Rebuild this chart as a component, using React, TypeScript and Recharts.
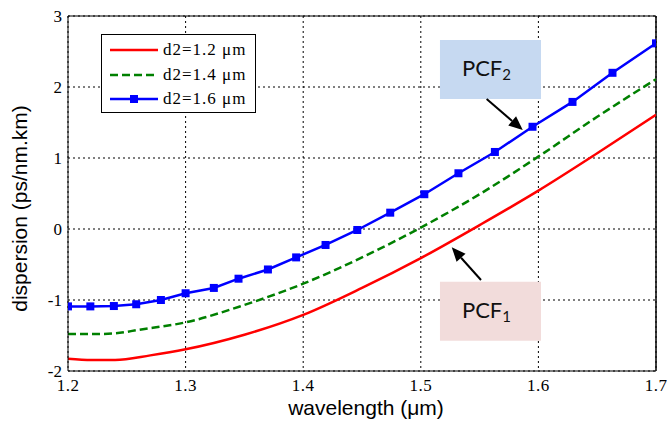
import React from 'react';
import {
  LineChart,
  Line,
  XAxis,
  YAxis,
  CartesianGrid,
  ReferenceLine,
  ReferenceArea,
  Legend,
} from 'recharts';

// ---- data ----
const xTicks = [1.2, 1.3, 1.4, 1.5, 1.6, 1.7];
const yTicks = [-2, -1, 0, 1, 2, 3];

const seriesNames = ['d2=1.2 \u03bcm', 'd2=1.4 \u03bcm', 'd2=1.6 \u03bcm'];
const seriesColors = ['#ff0000', '#008000', '#0000ff'];
const xAxisTitle = 'wavelength (\u03bcm)';
const yAxisTitle = 'dispersion (ps/nm.km)';

const redX = [1.2, 1.22, 1.24, 1.27, 1.3, 1.35, 1.4, 1.45, 1.5, 1.55, 1.6, 1.65, 1.7];
const redY = [-1.826, -1.845, -1.845, -1.78, -1.695, -1.49, -1.21, -0.83, -0.41, 0.055, 0.54, 1.066, 1.61];

const greenX = [1.2, 1.22, 1.24, 1.26, 1.3, 1.35, 1.4, 1.45, 1.5, 1.55, 1.6, 1.65, 1.7];
const greenY = [-1.48, -1.48, -1.47, -1.42, -1.315, -1.07, -0.77, -0.4, 0.02, 0.49, 1.02, 1.58, 2.11];

const blueX = [1.2, 1.219, 1.239, 1.258, 1.279, 1.3, 1.324, 1.345, 1.37, 1.394, 1.419, 1.446, 1.474, 1.503, 1.532, 1.563, 1.595, 1.629, 1.663, 1.7];
const blueY = [-1.09, -1.09, -1.085, -1.06, -1.0, -0.905, -0.83, -0.7, -0.57, -0.4, -0.225, -0.014, 0.23, 0.49, 0.785, 1.085, 1.44, 1.79, 2.2, 2.615];

// annotation boxes (data coords) and arrows
const pcf2Box = { x1: 1.5163, x2: 1.6022, y1: 1.831, y2: 2.662 };
const pcf1Box = { x1: 1.5163, x2: 1.6022, y1: -1.573, y2: -0.742 };
const pcf2Arrow = [{ x: 1.556, y: 1.831 }, { x: 1.5867, y: 1.394 }];
const pcf1Arrow = [{ x: 1.5512, y: -0.718 }, { x: 1.5263, y: -0.258 }];

const toPts = (xs: number[], ys: number[]) => xs.map((x, i) => ({ x, y: ys[i] }));
const redData = toPts(redX, redY);
const greenData = toPts(greenX, greenY);
const blueData = toPts(blueX, blueY);

const serif = "'Liberation Serif', 'Times New Roman', serif";
const sans = "'Liberation Sans', Arial, sans-serif";

const arrowShape = (p: any) => {
  const { x1, y1, x2, y2 } = p;
  const dx = x2 - x1;
  const dy = y2 - y1;
  const len = Math.hypot(dx, dy) || 1;
  const ux = dx / len;
  const uy = dy / len;
  const hl = 14;
  const hw = 6;
  const bx = x2 - ux * hl;
  const by = y2 - uy * hl;
  const pts = `${x2},${y2} ${bx - uy * hw},${by + ux * hw} ${bx + uy * hw},${by - ux * hw}`;
  return (
    <g>
      <line x1={x1} y1={y1} x2={bx} y2={by} stroke="#000" strokeWidth={2} />
      <polygon points={pts} fill="#000" />
    </g>
  );
};

const pcfLabel = (sub: string) => (props: any) => {
  const vb = props.viewBox || {};
  const cx = vb.x + vb.width / 2 - 4;
  const cy = vb.y + vb.height / 2 + 7;
  return (
    <text x={cx} y={cy} textAnchor="middle" style={{ fontFamily: "Lato, 'Open Sans', sans-serif" }} fontSize={22} fill="#111">
      PCF
      <tspan fontSize={15} dy={4}>{sub}</tspan>
    </text>
  );
};

const XTick = (p: any) => (
  <text
    x={p.x}
    y={p.y + 20}
    textAnchor="middle"
    style={{ fontFamily: serif, letterSpacing: '0.5px' }}
    fontSize={17}
    fill="#000"
  >
    {Number(p.payload.value).toFixed(1)}
  </text>
);

const YTick = (p: any) => (
  <text
    x={p.x - 6}
    y={p.y + 6}
    textAnchor="end"
    style={{ fontFamily: serif }}
    fontSize={17}
    fill="#000"
  >
    {String(p.payload.value)}
  </text>
);

const renderXLabel = (props: any) => {
  const vb = props.viewBox || {};
  return (
    <text x={vb.x + vb.width / 2 + 4} y={vb.y + 44} textAnchor="middle" style={{ fontFamily: sans }} fontSize={21} fill="#000">
      {xAxisTitle}
    </text>
  );
};

const renderYLabel = (props: any) => {
  const vb = props.viewBox || {};
  const x = vb.x + 27;
  const y = vb.y + vb.height / 2 + 15;
  return (
    <text x={x} y={y} transform={`rotate(-90, ${x}, ${y})`} textAnchor="middle" style={{ fontFamily: sans }} fontSize={21} fill="#000">
      {yAxisTitle}
    </text>
  );
};

const renderLegend = () => (
  <div
    style={{
      width: 155,
      height: 79,
      boxSizing: 'border-box',
      border: '1px solid #000',
      background: '#fff',
      padding: '3px 0 0 8px',
      fontFamily: serif,
      fontSize: 17,
      letterSpacing: 1,
      color: '#000',
    }}
  >
    {seriesNames.map((n, i) => (
      <div key={n} style={{ display: 'flex', alignItems: 'center', height: 24.5 }}>
        <svg width={48} height={12} style={{ display: 'block' }}>
          <line
            x1={0}
            y1={6}
            x2={48}
            y2={6}
            stroke={seriesColors[i]}
            strokeWidth={2.5}
            strokeDasharray={i === 1 ? '8 4' : undefined}
          />
          {i === 2 && <rect x={20} y={2} width={8} height={8} fill={seriesColors[i]} />}
        </svg>
        <span style={{ marginLeft: 5, lineHeight: '24px' }}>{n}</span>
      </div>
    ))}
  </div>
);

const squareDot = (p: any) => (
  <rect key={`sq-${p.index}`} x={p.cx - 4} y={p.cy - 4} width={8} height={8} fill={seriesColors[2]} />
);

export default function App() {
  return (
    <div style={{ position: 'absolute', left: 0, top: 0, background: '#fff' }}>
      <LineChart width={667} height={421} margin={{ top: 16, right: 11, bottom: 0, left: 0 }}>
        <CartesianGrid stroke="#000" strokeDasharray="2 3" strokeWidth={1} />
        <XAxis
          dataKey="x"
          type="number"
          domain={[1.2, 1.7]}
          ticks={xTicks}
          allowDataOverflow
          height={50}
          stroke="#000"
          tickLine={false}
          tickSize={0}
          tickMargin={0}
          tick={<XTick />}
          label={renderXLabel}
        />
        <YAxis
          type="number"
          domain={[-2, 3]}
          ticks={yTicks}
          allowDataOverflow
          width={68}
          stroke="#000"
          tickLine={false}
          tickSize={0}
          tickMargin={0}
          tick={<YTick />}
          label={renderYLabel}
        />
        <ReferenceLine y={3} stroke="#000" strokeWidth={1} />
        <ReferenceLine x={1.7} stroke="#000" strokeWidth={1.5} />
        <ReferenceArea {...pcf2Box} fill="#c6d9f1" fillOpacity={1} stroke="none" label={pcfLabel('2')} />
        <ReferenceArea {...pcf1Box} fill="#f2dcdb" fillOpacity={1} stroke="none" label={pcfLabel('1')} />
        <Legend
          layout="vertical"
          align="center"
          verticalAlign="middle"
          content={renderLegend}
          wrapperStyle={{ left: 101, top: 34, width: 155, height: 79 }}
        />
        <Line
          data={redData}
          dataKey="y"
          name={seriesNames[0]}
          type="monotone"
          stroke={seriesColors[0]}
          strokeWidth={2.5}
          dot={false}
          isAnimationActive={false}
        />
        <Line
          data={greenData}
          dataKey="y"
          name={seriesNames[1]}
          type="monotone"
          stroke={seriesColors[1]}
          strokeWidth={2.5}
          strokeDasharray="8 4"
          dot={false}
          isAnimationActive={false}
        />
        <Line
          data={blueData}
          dataKey="y"
          name={seriesNames[2]}
          type="linear"
          stroke={seriesColors[2]}
          strokeWidth={2.5}
          dot={squareDot}
          isAnimationActive={false}
        />
        <ReferenceLine segment={pcf2Arrow} shape={arrowShape} />
        <ReferenceLine segment={pcf1Arrow} shape={arrowShape} />
      </LineChart>
    </div>
  );
}
